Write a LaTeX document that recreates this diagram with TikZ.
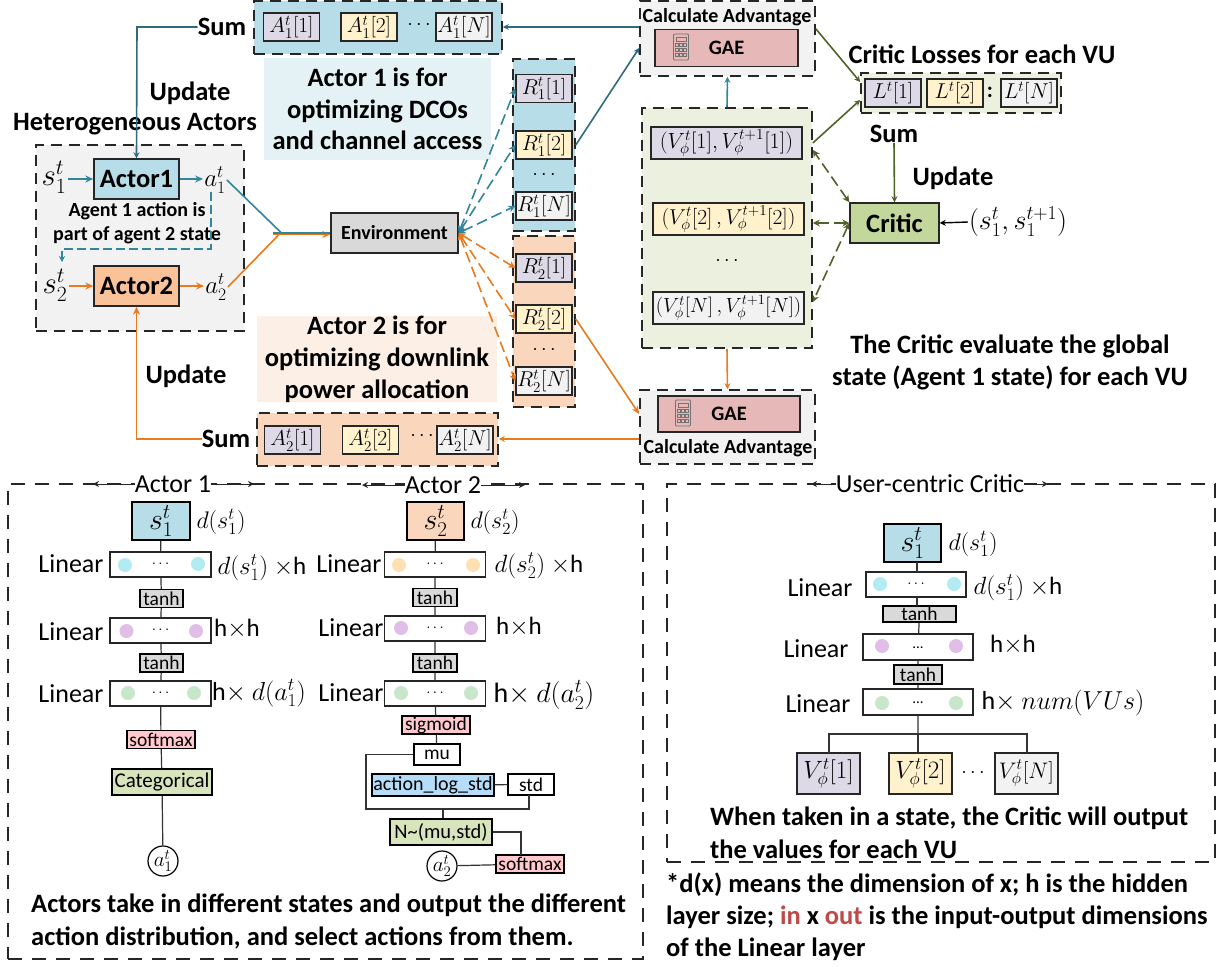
\documentclass[tikz,border=0pt]{standalone}
\usepackage{fix-cm}
\usepackage{fontspec}
\setmainfont{Carlito}
\usetikzlibrary{arrows.meta}

\definecolor{fillblue}{HTML}{B7DDE8}
\definecolor{fillorange}{HTML}{FAD6BC}
\definecolor{fillactor}{HTML}{F9C299}
\definecolor{fillgrey}{HTML}{F2F2F2}
\definecolor{fillgreen}{HTML}{EBF1DE}
\definecolor{fillcritic}{HTML}{C3D69B}
\definecolor{fillpurple}{HTML}{DDD9E6}
\definecolor{fillyellow}{HTML}{FFF2CC}
\definecolor{fillgae}{HTML}{E6B8B7}
\definecolor{fillpink}{HTML}{FFC9CE}
\definecolor{fillcat}{HTML}{D7E4BC}
\definecolor{filllog}{HTML}{B5DCF8}
\definecolor{noteblue}{HTML}{E4F1F5}
\definecolor{noteorange}{HTML}{FCEFE6}
\definecolor{dotcyan}{HTML}{B2EBF2}
\definecolor{dotpeach}{HTML}{FFE0B2}
\definecolor{dotpurple}{HTML}{E1BEE7}
\definecolor{dotgreen}{HTML}{C8E6C9}
\definecolor{lineteal}{HTML}{31869B}
\definecolor{linedark}{HTML}{2F6B7E}
\definecolor{lineorange}{HTML}{E97A1E}
\definecolor{linegreen}{HTML}{4F6228}
\definecolor{wordred}{HTML}{BE4B48}

\tikzset{
    groupbox/.style={draw=black!85, line width=1.6pt, dash pattern=on 11pt off 7pt, inner sep=0pt},
    framebox/.style={draw=black!85, line width=1.6pt, dash pattern=on 14pt off 10pt, inner sep=0pt},
    valbox/.style={draw=black!85, line width=1.4pt, minimum width=56pt, minimum height=28pt, inner sep=0pt, font=\fontsize{21.5}{21.5}\selectfont},
    actorbox/.style={draw=black!85, line width=1.4pt, minimum width=85pt, minimum height=40pt, inner sep=0pt, font=\bfseries\fontsize{26.5}{26.5}\selectfont},
    layerbox/.style={draw=black!85, line width=1.2pt, minimum width=101pt, minimum height=25pt, inner sep=0pt, fill=white, font=\fontsize{15}{15}\selectfont},
    funcbox/.style={draw=black, line width=1.3pt, inner sep=0pt, minimum height=18pt, font=\fontsize{19.5}{19.5}\selectfont},
    layerdot/.style={circle, minimum size=14pt, inner sep=0pt},
    plaintext/.style={inner sep=0pt, font=\fontsize{26}{26}\selectfont},
    smalltext/.style={inner sep=0pt, font=\fontsize{24}{24}\selectfont},
    dotstext/.style={inner sep=0pt, font=\fontsize{20}{20}\selectfont},
    boldtext/.style={inner sep=0pt, font=\bfseries\fontsize{26.5}{26.5}\selectfont, align=center},
    boldleft/.style={inner sep=0pt, anchor=west, font=\bfseries\fontsize{26.5}{26.5}\selectfont},
    mathtext/.style={inner sep=1pt, font=\fontsize{25}{25}\selectfont},
    netline/.style={draw=black!80, line width=1.2pt},
    teal arrow/.style={draw=lineteal, line width=1.6pt, -{Stealth[length=8pt,width=7pt]}},
    dark arrow/.style={draw=linedark, line width=1.6pt, -{Stealth[length=6pt,width=6pt]}},
    orange arrow/.style={draw=lineorange, line width=1.6pt, -{Stealth[length=8pt,width=7pt]}},
    green arrow/.style={draw=linegreen, line width=1.6pt, -{Stealth[length=6pt,width=6pt]}},
    both tips/.style={{Stealth[length=7pt,width=7pt]}-{Stealth[length=7pt,width=7pt]}, dash pattern=on 11pt off 5pt},
    span arrow/.style={draw=black!85, line width=1pt, -{Stealth[open,length=6pt,width=6pt]}}
}

\newcommand{\calcicon}[2]{
    \draw[black!55, line width=0.8pt, fill=fillgae, rounded corners=1pt] (#1-7.5,#2-13) rectangle (#1+7.5,#2+13);
    \draw[black!55, line width=0.7pt] (#1-5,#2-10) rectangle (#1+5,#2-6);
    \foreach \col in {-4,0,4}
        \foreach \row in {-2,3,8}
            \draw[black!55, line width=0.7pt] (#1+\col-1.3,#2+\row-1.3) rectangle (#1+\col+1.3,#2+\row+1.3);
}

\begin{document}
\begin{tikzpicture}[x=1pt, y=-1pt]
    \useasboundingbox (0,0) rectangle (1225,966);

    \node[groupbox, fill=fillblue, minimum width=248pt, minimum height=53pt] (aonegroup) at (378,27.5) {};
    \node[groupbox, fill=fillorange, minimum width=241pt, minimum height=53pt] (atwogroup) at (377.5,439.5) {};
    \node[groupbox, fill=fillblue, minimum width=62pt, minimum height=172pt] (ronegroup) at (544,145) {};
    \node[groupbox, fill=fillorange, minimum width=62pt, minimum height=171pt] (rtwogroup) at (544,321.5) {};
    \node[groupbox, fill=fillgrey, minimum width=208pt, minimum height=186pt] (actorgroup) at (140,238) {};
    \node[groupbox, fill=fillgrey, minimum width=175pt, minimum height=75pt] (gaetopgroup) at (727.5,38.5) {};
    \node[groupbox, fill=fillgrey, minimum width=175pt, minimum height=74pt] (gaebotgroup) at (727.5,427) {};
    \node[groupbox, fill=fillgreen, minimum width=170pt, minimum height=240pt] (valuegroup) at (727,228) {};
    \node[groupbox, fill=fillgreen, minimum width=200pt, minimum height=40pt] (lossgroup) at (961,93) {};
    \node[framebox, minimum width=635pt, minimum height=475pt] (actorframe) at (325.5,721.5) {};
    \node[framebox, minimum width=548pt, minimum height=378pt] (criticframe) at (941,673) {};

    \foreach \name/\xpos/\col/\idx in {1/291.5/fillpurple/1, 2/369/fillyellow/2, 3/464/fillgrey/N}
        \node[valbox, fill=\col] (aone\name) at (\xpos,27) {$A_1^t[\idx]$};
    \foreach \name/\xpos/\col/\idx in {1/292.5/fillpurple/1, 2/370.5/fillyellow/2, 3/465/fillgrey/N}
        \node[valbox, fill=\col] (atwo\name) at (\xpos,440) {$A_2^t[\idx]$};
    \foreach \name/\ypos/\col/\idx in {1/88.5/fillpurple/1, 2/145/fillyellow/2, 3/206/fillgrey/N}
        \node[valbox, fill=\col] (rone\name) at (544,\ypos) {$R_1^t[\idx]$};
    \foreach \name/\ypos/\col/\idx in {1/268/fillpurple/1, 2/319/fillyellow/2, 3/381/fillgrey/N}
        \node[valbox, fill=\col] (rtwo\name) at (544,\ypos) {$R_2^t[\idx]$};
    \foreach \name/\xpos/\col/\idx in {1/893/fillpurple/1, 2/955/fillyellow/2, 3/1029/fillgrey/N}
        \node[valbox, fill=\col] (loss\name) at (\xpos,93) {$L^t[\idx]$};
    \node[valbox, fill=fillpurple, minimum width=151pt, minimum height=32pt, font=\fontsize{22}{22}\selectfont] (valueone) at (726.5,143) {$(V_\phi^t[1],V_\phi^{t+1}[1])$};
    \node[valbox, fill=fillyellow, minimum width=151pt, minimum height=32pt, font=\fontsize{21.5}{21.5}\selectfont] (valuetwo) at (728.5,219) {$(V_\phi^t[2]\,,V_\phi^{t+1}[2])$};
    \node[valbox, fill=fillgrey, minimum width=151pt, minimum height=32pt, font=\fontsize{20.5}{20.5}\selectfont] (valuethree) at (728.5,308) {$(V_\phi^t[N]\,,V_\phi^{t+1}[N])$};

    \node[dotstext] (aonedots) at (419,25) {$\cdots$};
    \node[dotstext] (atwodots) at (422,436) {$\cdots$};
    \node[dotstext] (ronedots) at (544,175) {$\cdots$};
    \node[dotstext] (rtwodots) at (544,350) {$\cdots$};
    \node[dotstext] (valuedots) at (727,261) {$\cdots$};
    \node[dotstext, font=\bfseries\fontsize{22}{22}\selectfont] (losscolon) at (990,92) {:};

    \node[boldtext] (sumone) at (222,27) {Sum};
    \node[boldtext] (sumtwo) at (226,439) {Sum};
    \node[boldtext] (updateone) at (190,93) {Update};
    \node[boldtext] (updatetwo) at (186,376) {Update};
    \node[boldtext] (hetlabel) at (135,124) {Heterogeneous Actors};
    \node[actorbox, fill=fillblue] (actorone) at (136.5,179) {Actor1};
    \node[actorbox, fill=fillactor] (actortwo) at (136.5,286) {Actor2};
    \node[mathtext, font=\fontsize{31}{31}\selectfont] (sone) at (54,177) {$s_1^t$};
    \node[mathtext, font=\fontsize{31}{31}\selectfont] (stwo) at (55,285) {$s_2^t$};
    \node[mathtext] (aone) at (215,180) {$a_1^t$};
    \node[mathtext] (atwo) at (216,287) {$a_2^t$};
    \node[boldtext, font=\bfseries\fontsize{20}{24}\selectfont] (agentnote) at (137,223) {Agent 1 action is\\part of agent 2 state};
    \node[draw=black!85, line width=1.4pt, fill=black!15, minimum width=127pt, minimum height=40pt, inner sep=0pt, font=\bfseries\fontsize{20}{20}\selectfont] (env) at (394.5,233) {Environment};
    \node[boldtext, fill=noteblue, minimum width=227pt, minimum height=102pt, font=\bfseries\fontsize{26.5}{31.5}\selectfont] (noteone) at (377.5,109) {Actor 1 is for\\optimizing DCOs\\and channel access};
    \node[boldtext, fill=noteorange, minimum width=240pt, minimum height=86pt, font=\bfseries\fontsize{26.5}{32}\selectfont] (notetwo) at (377,359) {Actor 2 is for\\optimizing downlink\\power allocation};

    \node[boldtext, font=\bfseries\fontsize{20}{20}\selectfont] (calctop) at (727,17) {Calculate Advantage};
    \node[draw=black!85, line width=1.4pt, fill=fillgae, minimum width=143pt, minimum height=37pt, inner sep=0pt, font=\bfseries\fontsize{20.5}{20.5}\selectfont] (gaetop) at (726.5,48) {GAE};
    \node[draw=black!85, line width=1.4pt, fill=fillgae, minimum width=142pt, minimum height=36pt, inner sep=0pt, font=\bfseries\fontsize{20.5}{20.5}\selectfont] (gaebot) at (729,414) {GAE};
    \node[boldtext, font=\bfseries\fontsize{20}{20}\selectfont] (calcbot) at (728,448) {Calculate Advantage};
    \calcicon{681}{47}
    \calcicon{683}{413}

    \node[boldtext] (losslabel) at (982,54) {Critic Losses for each VU};
    \node[boldtext] (sumcritic) at (894,134) {Sum};
    \node[boldtext] (updatecritic) at (953,178) {Update};
    \node[actorbox, fill=fillcritic, minimum width=89pt] (critic) at (894.5,223) {Critic};
    \node[mathtext, font=\fontsize{28}{28}\selectfont] (criticinput) at (1018,222) {$(s_1^t,s_1^{t+1})$};
    \node[boldtext, font=\bfseries\fontsize{26.5}{32}\selectfont] (criticnote) at (1010,362) {The Critic evaluate the global\\state (Agent 1 state) for each VU};

    \node[plaintext, fill=white] (actoronetitle) at (173,484) {Actor 1};
    \node[plaintext, fill=white] (actortwotitle) at (443,485) {Actor 2};
    \node[plaintext, fill=white] (critictitle) at (930,484) {User-centric Critic};
    \coordinate (actoroneleft) at (93,484);
    \coordinate (actoroneright) at (254,484);
    \coordinate (actortwoleft) at (362,485);
    \coordinate (actortworight) at (525,485);
    \coordinate (criticleft) at (811,484);
    \coordinate (criticright) at (1048,484);

    \node[draw=black, line width=1.4pt, fill=fillblue, minimum width=58pt, minimum height=38pt, inner sep=0pt, font=\fontsize{30}{30}\selectfont] (statea) at (161,521) {$s_1^t$};
    \node[layerbox] (layeraa) at (160.5,564.5) {$\cdots$};
    \node[funcbox, fill=black!15, minimum width=43pt] (tanhaa) at (161.5,598.5) {tanh};
    \node[layerbox] (layerab) at (160.5,630.5) {$\cdots$};
    \node[funcbox, fill=black!15, minimum width=43pt] (tanhab) at (161.5,663) {tanh};
    \node[layerbox] (layerac) at (160.5,693.5) {$\cdots$};
    \node[funcbox, fill=fillpink, minimum width=68pt] (softa) at (161,739.5) {softmax};
    \node[funcbox, fill=fillcat, minimum width=100pt, minimum height=26pt, font=\fontsize{21}{21}\selectfont] (catbox) at (162,782) {Categorical};
    \node[draw=black, circle, line width=1.2pt, minimum size=30pt, inner sep=0pt, font=\fontsize{21}{21}\selectfont] (outa) at (163,861) {$a_1^t$};

    \node[draw=black, line width=1.4pt, fill=fillorange, minimum width=57pt, minimum height=38pt, inner sep=0pt, font=\fontsize{30}{30}\selectfont] (stateb) at (435.5,521) {$s_2^t$};
    \node[layerbox] (layerba) at (435,564.5) {$\cdots$};
    \node[funcbox, fill=black!15, minimum width=44pt] (tanhba) at (435,597.5) {tanh};
    \node[layerbox] (layerbb) at (435,628.5) {$\cdots$};
    \node[funcbox, fill=black!15, minimum width=44pt] (tanhbb) at (435,663) {tanh};
    \node[layerbox] (layerbc) at (435,693.5) {$\cdots$};
    \node[funcbox, fill=fillpink, minimum width=68pt] (sigbox) at (436,725) {sigmoid};
    \node[funcbox, fill=white, minimum width=46pt, minimum height=21pt] (mubox) at (437,754.5) {mu};
    \node[funcbox, fill=filllog, minimum width=122pt, minimum height=22pt, font=\fontsize{20}{20}\selectfont] (logbox) at (433,785) {action\_log\_std};
    \node[funcbox, fill=white, minimum width=46pt, minimum height=21pt] (stdbox) at (531,784.5) {std};
    \node[funcbox, fill=fillcat, minimum width=102pt, minimum height=26pt, font=\fontsize{20.5}{20.5}\selectfont] (normbox) at (441,832) {N\textasciitilde(mu,std)};
    \node[funcbox, fill=fillpink, minimum width=68pt] (softb) at (530,864) {softmax};
    \node[draw=black, circle, line width=1.2pt, minimum size=30pt, inner sep=0pt, font=\fontsize{21}{21}\selectfont] (outb) at (442,866) {$a_2^t$};
    \coordinate (normjoin) at (443,809);

    \node[draw=black, line width=1.4pt, fill=fillblue, minimum width=57pt, minimum height=38pt, inner sep=0pt, font=\fontsize{30}{30}\selectfont] (statec) at (912.5,543) {$s_1^t$};
    \node[layerbox, minimum width=100pt] (layerca) at (916,584.5) {$\cdots$};
    \node[funcbox, fill=black!15, minimum width=73pt, minimum height=16pt] (tanhca) at (919.5,614) {tanh};
    \node[layerbox, minimum width=110pt, minimum height=26pt] (layercb) at (918,647) {\raisebox{-4pt}{...}};
    \node[funcbox, fill=black!15, minimum width=48pt, minimum height=19pt] (tanhcb) at (918,674.5) {tanh};
    \node[layerbox, minimum width=110pt, minimum height=26pt] (layercc) at (918,702) {\raisebox{-4pt}{...}};
    \node[valbox, fill=fillpurple, minimum width=63pt, minimum height=41pt, font=\fontsize{25}{25}\selectfont] (vone) at (828.5,773.5) {$V_\phi^t[1]$};
    \node[valbox, fill=fillyellow, minimum width=63pt, minimum height=41pt, font=\fontsize{25}{25}\selectfont] (vtwo) at (920.5,773.5) {$V_\phi^t[2]$};
    \node[valbox, fill=fillgrey, minimum width=63pt, minimum height=41pt, font=\fontsize{22.5}{22.5}\selectfont] (vthree) at (1026.5,773.5) {$V_\phi^t[N]$};
    \node[dotstext] (vdots) at (973,773) {$\cdots$};
    \coordinate (branch) at (918,734);

    \node[layerdot, fill=dotcyan] (dotaa) at (125,565) {};
    \node[layerdot, fill=dotcyan] (dotab) at (198,564) {};
    \node[layerdot, fill=dotpurple] (dotac) at (126.5,631) {};
    \node[layerdot, fill=dotpurple] (dotad) at (196,631) {};
    \node[layerdot, fill=dotgreen] (dotae) at (128,693) {};
    \node[layerdot, fill=dotgreen] (dotaf) at (194,693) {};
    \node[layerdot, fill=dotpeach] (dotba) at (399,565) {};
    \node[layerdot, fill=dotpeach] (dotbb) at (473,565) {};
    \node[layerdot, fill=dotpurple] (dotbc) at (401,628) {};
    \node[layerdot, fill=dotpurple] (dotbd) at (471,628) {};
    \node[layerdot, fill=dotgreen] (dotbe) at (401,693) {};
    \node[layerdot, fill=dotgreen] (dotbf) at (471,693) {};
    \node[layerdot, fill=dotcyan] (dotca) at (880,584) {};
    \node[layerdot, fill=dotcyan] (dotcb) at (954,584) {};
    \node[layerdot, fill=dotpurple] (dotcc) at (882,646) {};
    \node[layerdot, fill=dotpurple] (dotcd) at (956,646) {};
    \node[layerdot, fill=dotgreen] (dotce) at (882,703) {};
    \node[layerdot, fill=dotgreen] (dotcf) at (956,703) {};

    \node[plaintext] (linaa) at (71,564) {Linear};
    \node[plaintext] (linab) at (71,632) {Linear};
    \node[plaintext] (linac) at (71,694) {Linear};
    \node[plaintext] (linba) at (349,564) {Linear};
    \node[plaintext] (linbb) at (351,628) {Linear};
    \node[plaintext] (linbc) at (351,693) {Linear};
    \node[plaintext] (linca) at (820,588) {Linear};
    \node[plaintext] (lincb) at (816,649) {Linear};
    \node[plaintext] (lincc) at (818,704) {Linear};
    \node[smalltext] (dima) at (221,522) {$d(s_1^t)$};
    \node[smalltext] (dimb) at (495,522) {$d(s_2^t)$};
    \node[smalltext] (dimc) at (973,544) {$d(s_1^t)$};
    \node[plaintext, font=\fontsize{25}{25}\selectfont] (sizeaa) at (262,568) {$d(s_1^t)$ $\times$h};
    \node[plaintext, font=\fontsize{25}{25}\selectfont] (sizeab) at (237,629) {h$\times$h};
    \node[plaintext] (sizeac) at (259,693) {h$\times$ $d(a_1^t)$};
    \node[plaintext, font=\fontsize{25}{25}\selectfont] (sizeba) at (539,566) {$d(s_2^t)$ $\times$h};
    \node[plaintext, font=\fontsize{25}{25}\selectfont] (sizebb) at (519,627) {h$\times$h};
    \node[plaintext, font=\fontsize{28}{28}\selectfont] (sizebc) at (544,695) {h$\times$ $d(a_2^t)$};
    \node[plaintext, font=\fontsize{25}{25}\selectfont] (sizeca) at (1018,588) {$d(s_1^t)$ $\times$h};
    \node[plaintext, font=\fontsize{25}{25}\selectfont] (sizecb) at (1013,645) {h$\times$h};
    \node[plaintext] (sizecc) at (1063,703) {h$\times$ $num(VUs)$};

    \node[boldleft] (actornotea) at (31,905) {Actors take in different states and output the different};
    \node[boldleft] (actornoteb) at (31,938) {action distribution, and select actions from them.};
    \node[boldleft] (criticnotea) at (710,818) {When taken in a state, the Critic will output};
    \node[boldleft] (criticnoteb) at (710,849) {the values for each VU};
    \node[boldleft] (footnotea) at (666,885) {*d(x) means the dimension of x; h is the hidden};
    \node[boldleft] (footnoteb) at (666,917) {layer size; \textcolor{wordred}{in} x \textcolor{wordred}{out} is the input-output dimensions};
    \node[boldleft] (footnotec) at (666,949) {of the Linear layer};

    \draw[dark arrow] (sumone.west) -- (137,27) -- (actorone.north);
    \draw[orange arrow] (sumtwo.west) -- (136.5,439) -- (actortwo.south);
    \draw[teal arrow] (sone.east |- actorone.west) -- (actorone.west);
    \draw[teal arrow] (actorone.east) -- (aone.west |- actorone.east);
    \draw[orange arrow] (stwo.east |- actortwo.west) -- (actortwo.west);
    \draw[orange arrow] (actortwo.east) -- (atwo.west |- actortwo.east);
    \draw[draw=lineteal, line width=1.2pt, dash pattern=on 9pt off 4pt, -{Stealth[length=6pt,width=6pt]}] (211,192) -- (211,249) -- (62,249) -- (62,262);

    \coordinate (orangestart) at (273,234.5);
    \coordinate (envjoin) at (281,232.5);
    \draw[draw=lineorange, line width=1.6pt] (atwo.east) -- (envjoin);
    \draw[orange arrow] (orangestart) -- (env.west |- orangestart);
    \draw[draw=lineteal, line width=1.6pt] (aone.east) -- (envjoin);
    \draw[draw=lineteal, line width=2pt] (envjoin -| orangestart) -- (env.west |- envjoin);

    \foreach \target in {rone1,rone2,rone3}
        \draw[teal arrow, both tips] (env.east) -- (\target.west);
    \foreach \target in {rtwo1,rtwo2,rtwo3}
        \draw[orange arrow, both tips] (env.east) -- (\target.west);

    \draw[dark arrow] (gaetopgroup.west |- sumone.east) -- (aonegroup.east |- sumone.east);
    \draw[orange arrow, -{Stealth[length=6pt,width=6pt]}] (gaebotgroup.west |- sumtwo.east) -- (atwogroup.east |- sumtwo.east);
    \draw[dark arrow] (ronegroup.east |- rone2.east) -- (gaetopgroup.west |- gaetop.west);
    \draw[orange arrow] (rtwogroup.east |- rtwo2.east) -- (gaebotgroup.west |- gaebot.west);
    \draw[teal arrow, -{Stealth[length=6pt,width=6pt]}] (valuegroup.north) -- (gaetopgroup.south);
    \draw[orange arrow, -{Stealth[length=6pt,width=6pt]}] (valuegroup.south) -- (gaebotgroup.north);
    \draw[green arrow] (gaetopgroup.east |- gaetop.north) -- (lossgroup.west |- 0,82);
    \draw[green arrow] (valuegroup.east |- valueone.east) -- (lossgroup.west |- 0,100);
    \draw[green arrow] (sumcritic.south) -- (critic.north);
    \draw[draw=black, line width=1.4pt, -{Stealth[length=6pt,width=6pt]}] (criticinput.west) -- (critic.east);
    \draw[green arrow, both tips] (critic.north west) -- (valuegroup.east |- 0,150);
    \draw[green arrow, both tips] (critic.west) -- (valuegroup.east |- critic.west);
    \draw[green arrow, both tips] (critic.west) -- (valuegroup.east |- 0,302);

    \draw[span arrow] (actoronetitle.west) -- (actoroneleft);
    \draw[span arrow] (actoronetitle.east) -- (actoroneright);
    \draw[span arrow] (actortwotitle.west) -- (actortwoleft);
    \draw[span arrow] (actortwotitle.east) -- (actortworight);
    \draw[span arrow] (critictitle.west) -- (criticleft);
    \draw[span arrow] (critictitle.east) -- (criticright);

    \draw[netline] (statea) -- (layeraa) -- (tanhaa) -- (layerab) -- (tanhab) -- (layerac) -- (softa) -- (catbox) -- (outa);
    \draw[netline] (stateb) -- (layerba) -- (tanhba) -- (layerbb) -- (tanhbb) -- (layerbc) -- (sigbox) -- (mubox);
    \draw[netline] (mubox.west) -- (366,754.5) -- (366,809) -- (normjoin) -- (529,809) -- (529,795);
    \draw[netline] (normjoin) -- (normbox.north -| normjoin);
    \draw[netline] (logbox) -- (stdbox);
    \draw[netline] (normbox.east) -- (521,832) -- (521,855);
    \draw[netline] (outb) -- (softb);
    \draw[netline] (917,562) -- (917,572);
    \draw[netline] (917,597) -- (917,606);
    \draw[netline] (tanhca) -- (layercb) -- (tanhcb) -- (layercc) -- (branch);
    \draw[netline] (829,753) -- (829,734) -- (branch) -- (1027,734) -- (1027,753);
    \draw[netline] (branch) -- (branch |- vtwo.north);
\end{tikzpicture}
\end{document}
